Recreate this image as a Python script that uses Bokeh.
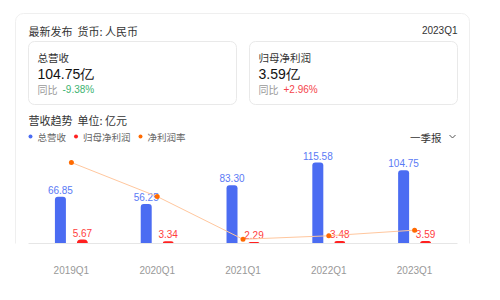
from bokeh.plotting import figure
from bokeh.models import (FactorRange, Range1d, ColumnDataSource, LabelSet, Label,
                          BoxAnnotation, Arrow)
from bokeh.transform import dodge
from bokeh.core.properties import value
from bokeh.embed import file_html
from bokeh.resources import INLINE

# ---- data ----
quarters = ["2019Q1", "2020Q1", "2021Q1", "2022Q1", "2023Q1"]
revenue = [66.85, 56.25, 83.30, 115.58, 104.75]          # 总营收 (亿元)
net_profit = [5.67, 3.34, 2.29, 3.48, 3.59]              # 归母净利润 (亿元)
net_margin = [8.48, 5.94, 2.75, 3.01, 3.43]              # 净利润率 (%)
revenue_labels = ["66.85", "56.25", "83.30", "115.58", "104.75"]
profit_labels = ["5.67", "3.34", "2.29", "3.48", "3.59"]

latest_period = "2023Q1"
latest_revenue = "104.75亿"
latest_revenue_yoy = "-9.38%"
latest_profit = "3.59亿"
latest_profit_yoy = "+2.96%"

# ---- style ----
CJK = "Noto Sans CJK SC"
NUM = "Liberation Sans"
BLUE = "#4b6cf2"
BLUE_TXT = "#5a7af5"
RED = "#ff2020"
RED_TXT = "#ff3d3d"
ORANGE = "#ff6a00"
ORANGE_LINE = "#ffc79e"
GREEN = "#3cb371"

src = ColumnDataSource(dict(q=quarters, rev=revenue, np=net_profit, m=net_margin,
                            rl=revenue_labels, pl=profit_labels))

# frame: x 0..485, y 0..243 (plot baseline at 243px from top)
xr = FactorRange(*quarters, range_padding=0.3263, range_padding_units="absolute")
p = figure(width=500, height=300, x_range=xr, y_range=Range1d(0, 347.14),
           output_backend="svg", toolbar_location=None, tools="",
           min_border_left=0, min_border_right=15, min_border_top=0, min_border_bottom=57,
           y_axis_location=None)
p.extra_y_ranges = {"pct": Range1d(2.435, 20.569)}
p.background_fill_color = "white"
p.border_fill_color = "white"
p.outline_line_color = None
p.xgrid.visible = False
p.ygrid.visible = False

ax = p.xaxis[0]
ax.bounds = (0, 5)
ax.axis_line_color = "#e6e6e6"
ax.major_tick_line_color = None
ax.minor_tick_line_color = None
ax.major_tick_out = 0
ax.major_tick_in = 0
ax.major_label_text_color = "#999999"
ax.major_label_text_font = NUM
ax.major_label_text_font_size = "10px"
ax.major_label_standoff = 21


def box(l, t, r, b, fill=None, line=None, radius=0):
    p.add_layout(BoxAnnotation(left=l, right=r, top=t, bottom=b,
                               left_units="canvas", right_units="canvas",
                               top_units="canvas", bottom_units="canvas",
                               fill_color=fill, fill_alpha=1 if fill else 0,
                               line_color=line, line_alpha=1 if line else 0,
                               line_width=1, border_radius=radius, level="underlay"))


def lab(x, y, text, size, color, font=CJK, align="left"):
    p.add_layout(Label(x=x, y=y, x_units="canvas", y_units="canvas", text=text,
                       text_font=font, text_font_size=size, text_color=color,
                       text_align=align, text_baseline="middle"))


# outer card and inner cards
box(15, 13, 469, 279, line="#efefef", radius=8)
box(28, 41, 236, 104, line="#e9e9e9", radius=6)
box(249, 41, 457, 104, line="#e9e9e9", radius=6)

BW = 0.128
p.vbar(x=dodge("q", -BW, range=p.x_range), top="rev", bottom=0, width=BW, source=src,
       fill_color=BLUE, line_color=None, border_radius=(3, 3, 0, 0))
p.vbar(x=dodge("q", BW, range=p.x_range), top="np", bottom=0, width=BW, source=src,
       fill_color=RED, line_color=None, border_radius=(4, 4, 0, 0))

p.add_layout(LabelSet(x=dodge("q", -BW, range=p.x_range), y="rev", text="rl", source=src,
                      text_align="center", text_baseline="alphabetic", y_offset=3,
                      text_font=value(NUM), text_font_size=value("10px"), text_color=BLUE_TXT))
p.add_layout(LabelSet(x=dodge("q", BW, range=p.x_range), y="np", text="pl", source=src,
                      text_align="center", text_baseline="alphabetic", y_offset=3,
                      text_font=value(NUM), text_font_size=value("10px"), text_color=RED_TXT))

ln = p.line(x="q", y="m", source=src, y_range_name="pct", line_color=ORANGE_LINE, line_width=1)
sc = p.scatter(x="q", y="m", source=src, y_range_name="pct", size=5, fill_color=ORANGE,
               line_color=None)
ln.level = "overlay"
sc.level = "overlay"

# header
lab(28, 30, "最新发布", "11px", "#333333")
lab(77, 30, "货币: 人民币", "11px", "#333333")
lab(457, 30, latest_period, "10px", "#333333", font=NUM, align="right")

# revenue card
lab(37, 57, "总营收", "10.5px", "#333333")
lab(37, 73, latest_revenue, "14px", "#111111", font=NUM)
lab(37, 89, "同比", "10px", "#999999")
lab(62, 89, latest_revenue_yoy, "10px", GREEN, font=NUM)

# profit card
lab(258, 57, "归母净利润", "10.5px", "#333333")
lab(258, 73, latest_profit, "14px", "#111111", font=NUM)
lab(258, 89, "同比", "10px", "#999999")
lab(283, 89, latest_profit_yoy, "10px", "#f5454b", font=NUM)

# chart title
lab(28, 119, "营收趋势", "11px", "#333333")
lab(77, 119, "单位: 亿元", "11px", "#333333")

# legend
for cx, col, txt in [(30, BLUE, "总营收"), (75.5, RED, "归母净利润"), (140, ORANGE, "净利润率")]:
    box(cx - 2, 134, cx + 2, 138, fill=col, radius=2)
    lab(cx + 7, 136, txt, "9.5px", "#666666")

# period selector
lab(441, 137, "一季报", "10.5px", "#333333", align="right")
p.add_layout(Arrow(x_start=449, y_start=134.5, x_end=452, y_end=137.5, start_units="canvas",
                   end_units="canvas", end=None, line_color="#555555", line_width=1))
p.add_layout(Arrow(x_start=452, y_start=137.5, x_end=455, y_end=134.5, start_units="canvas",
                   end_units="canvas", end=None, line_color="#555555", line_width=1))

open("out.html", "w").write(file_html(p, INLINE))
